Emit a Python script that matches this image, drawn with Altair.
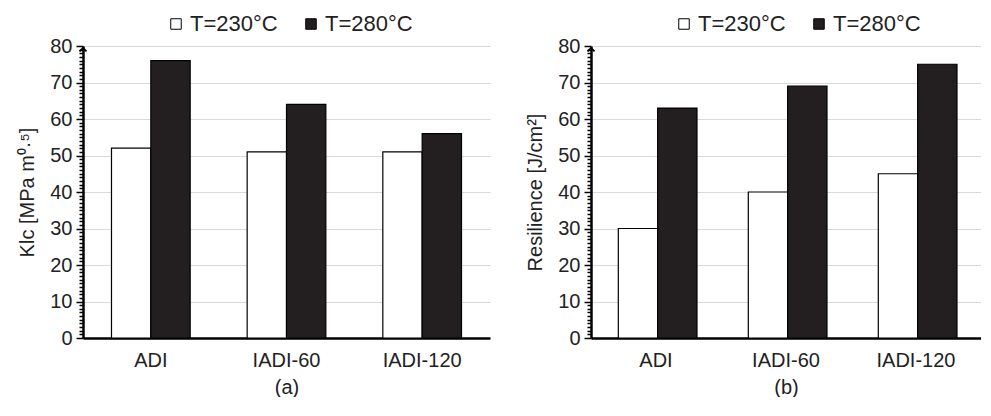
import altair as alt
import pandas as pd

categories = ["ADI", "IADI-60", "IADI-120"]
series = ["T=230°C", "T=280°C"]
klc_230 = [52, 51, 51]
klc_280 = [76, 64, 56]
res_230 = [30, 40, 45]
res_280 = [63, 69, 75]
y_ticks = list(range(0, 81))

FONT = "Liberation Sans"


def panel(v230, v280, ytitle, subtitle, width):
    df = pd.DataFrame({
        "cat": categories * 2,
        "series": [series[0]] * 3 + [series[1]] * 3,
        "value": v230 + v280,
    })
    yscale = alt.Scale(domain=[0, 80], nice=False)
    bars = alt.Chart(df).mark_bar(stroke="black", strokeWidth=1.2).encode(
        x=alt.X("cat:N", sort=categories,
                scale=alt.Scale(paddingInner=0.42, paddingOuter=0.21),
                axis=alt.Axis(title=subtitle, labelAngle=0, ticks=False,
                              domainColor="black", domainWidth=2.5,
                              labelFontSize=20, titleFontSize=20,
                              labelColor="#222", titleColor="#222",
                              labelPadding=12, titlePadding=7,
                              titleFontWeight="normal")),
        xOffset=alt.XOffset("series:N", sort=series),
        y=alt.Y("value:Q", scale=yscale,
                axis=alt.Axis(values=y_ticks, title=ytitle,
                              labelExpr="datum.value % 10 === 0 ? datum.label : ''",
                              labelOverlap=False,
                              tickSize={"condition": {"test": "datum.value % 10 === 0", "value": 7}, "value": 4},
                              tickWidth=1.5, tickColor="black",
                              gridOpacity={"condition": {"test": "datum.value % 10 === 0", "value": 1}, "value": 0},
                              gridColor="#d9d9d9", gridWidth=1.2,
                              domainColor="black", domainWidth=2.5,
                              labelFontSize=20, titleFontSize=20,
                              labelColor="#222", titleColor="#222",
                              labelPadding=4, titlePadding=12,
                              titleFontWeight="normal")),
        color=alt.Color("series:N",
                        scale=alt.Scale(domain=series, range=["white", "#231f20"]),
                        legend=alt.Legend(title=None, orient="none", direction="horizontal",
                                          legendX=82, legendY=-33,
                                          symbolType="square", symbolSize=110,
                                          symbolStrokeColor="black", symbolStrokeWidth=1,
                                          labelFontSize=22, labelColor="#222",
                                          columnPadding=22, labelOffset=3)),
    )
    arrow = alt.Chart(pd.DataFrame({"a": [80]})).mark_point(
        shape="M-1,0.7L0,-0.3L1,0.7", filled=False, stroke="black",
        strokeWidth=1.8, size=50, opacity=1,
    ).encode(x=alt.value(0), y=alt.value(3))
    return alt.layer(bars, arrow).properties(width=width, height=292)


left = panel(klc_230, klc_280, "Klc [MPa m⁰·⁵]", "(a)", 407)
right = panel(res_230, res_280, "Resilience [J/cm²]", "(b)", 390)

chart = alt.hconcat(left, right, spacing=35).resolve_scale(
    color="independent"
).resolve_legend(color="independent").configure(
    font=FONT
).configure_view(stroke=None).properties(padding={"left": 9, "top": 5, "right": 0, "bottom": 0})

chart.save("out.html", embed_options={"renderer": "svg", "actions": False})
